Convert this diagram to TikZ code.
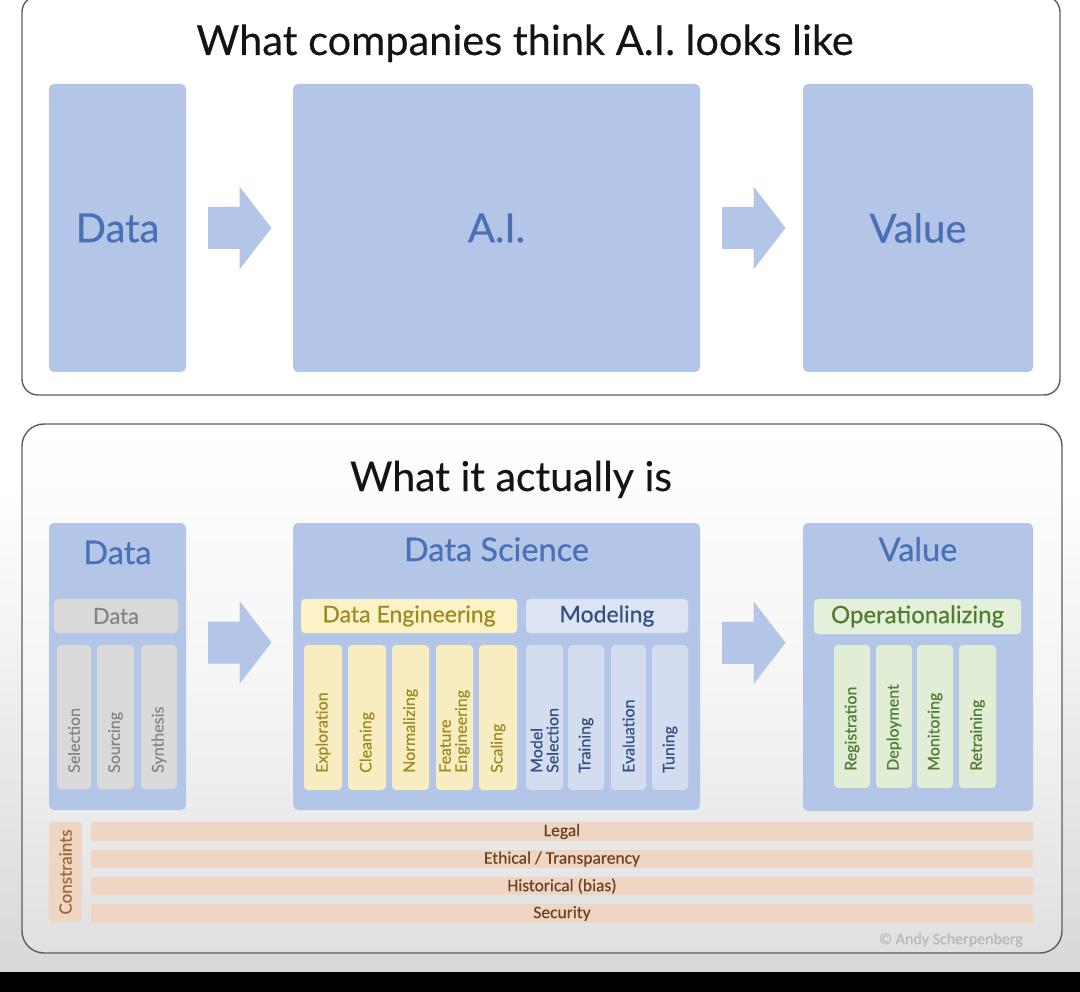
\documentclass[tikz,border=0pt]{standalone}
\usepackage{fontspec}
\setmainfont{Lato}
\newfontfamily\mfont{Lato}[FakeBold=0.5]
\newfontfamily\tfont{Lato}[FakeBold=0.25]
\newfontfamily\cfont{Carlito}[FakeBold=0.4]
\usetikzlibrary{calc}
\definecolor{boxblue}{HTML}{B4C6E7}
\definecolor{titleblue}{HTML}{4A70B6}
\definecolor{grayhead}{HTML}{D9D9D9}
\definecolor{graycol}{HTML}{DADADA}
\definecolor{graytext}{HTML}{858585}
\definecolor{yellowhead}{HTML}{FCF2C8}
\definecolor{yellowcol}{HTML}{F8EDC1}
\definecolor{yellowtext}{HTML}{9E8A22}
\definecolor{modhead}{HTML}{DCE4F3}
\definecolor{modcol}{HTML}{D3DDEF}
\definecolor{modtext}{HTML}{34507E}
\definecolor{greenhead}{HTML}{E4F0D9}
\definecolor{greencol}{HTML}{E2EDD6}
\definecolor{greentext}{HTML}{507D32}
\definecolor{consfill}{HTML}{EFD5C4}
\definecolor{constext}{HTML}{6E4220}
\definecolor{conslabel}{HTML}{9B6A3A}
\definecolor{panelline}{HTML}{5E5E5E}
\definecolor{bgbot}{HTML}{D8D8D8}
\definecolor{panelbot}{HTML}{E0E0E0}
\newcommand\mkbox[6]{\node[#1, minimum width={#4-#2}, minimum height={#5-#3}] (#6) at ({(#2+#4)/2},{(#3+#5)/2}) {};}
\newcommand\mktbox[7]{\node[#1, minimum width={#4-#2}, minimum height={#5-#3}] (#6) at ({(#2+#4)/2},{(#3+#5)/2}) {#7};}
\begin{document}
\begin{tikzpicture}[x=1pt,y=-1pt,
  bigbox/.style={rectangle, rounded corners=5pt, fill=boxblue, inner sep=0pt, text=titleblue},
  hdr/.style={rectangle, rounded corners=4pt, inner sep=0pt, font=\mfont\fontsize{23}{25}\selectfont},
  col/.style={rectangle, rounded corners=4pt, inner sep=0pt},
  collbl/.style={rotate=90, anchor=west, inner sep=0pt, font=\mfont\fontsize{16}{16}\selectfont, align=left},
  consbar/.style={rectangle, rounded corners=2pt, fill=consfill, inner sep=0pt, text=constext, font=\cfont\fontsize{17.5}{18}\selectfont},
  panel/.style={draw=panelline, line width=1.4pt},
  pics/blockarrow/.style={code={\fill[boxblue] (-31.5,-21) -- (0,-21) -- (0,-41.5) -- (32,0) -- (0,41.5) -- (0,21) -- (-31.5,21) -- cycle;}}
]
\useasboundingbox (0,0) rectangle (1080,992);
% background
\fill[top color=white, bottom color=bgbot, middle color=white] (0,0) rectangle (1080,972);
\fill[black] (0,972) rectangle (1080,992);
% panels
\draw[panel, fill=white, rounded corners=16pt] (22,-4) rectangle (1060,395);
\draw[panel, top color=white, bottom color=panelbot, middle color=white!96!black, rounded corners=22pt] (22,424) rectangle (1062,953);

% ---------- top panel ----------
\node[anchor=base, font=\tfont\fontsize{41.5}{44}\selectfont, text=black!92] (ttitle) at (525,55) {What companies think A.I. looks like};
\mktbox{bigbox, font=\mfont\fontsize{40}{42}\selectfont}{49}{84}{186}{372}{tdata}{Data}
\mktbox{bigbox, font=\mfont\fontsize{40}{42}\selectfont}{293}{84}{700}{372}{tai}{A.I.}
\mktbox{bigbox, font=\mfont\fontsize{40}{42}\selectfont}{803}{84}{1033}{372}{tval}{Value}
\coordinate (ta1) at ($(tdata.east)!0.5!(tai.west)$);
\coordinate (ta2) at ($(tai.east)!0.5!(tval.west)+(2,0)$);
\pic at (ta1) {blockarrow};
\pic at (ta2) {blockarrow};

% ---------- bottom panel ----------
\node[anchor=base, font=\tfont\fontsize{41}{44}\selectfont, text=black!92] (btitle) at (511,491) {What it actually is};
\mkbox{bigbox}{49}{523}{186}{810}{bdata}
\mkbox{bigbox}{293}{523}{700}{810}{bds}
\mkbox{bigbox}{803}{523}{1033}{811}{bval}
\node[anchor=base, text=titleblue, font=\mfont\fontsize{32.5}{34}\selectfont] (bdatat) at (117.5,564) {Data};
\node[anchor=base, text=titleblue, font=\mfont\fontsize{32.5}{34}\selectfont] (bdst) at (496.5,561) {Data Science};
\node[anchor=base, text=titleblue, font=\mfont\fontsize{32.5}{34}\selectfont] (bvalt) at (918,561) {Value};
\coordinate (ba1) at ($(bdata.east)!0.5!(bds.west)+(0,-24)$);
\coordinate (ba2) at ($(bds.east)!0.5!(bval.west)+(2,-24)$);
\pic at (ba1) {blockarrow};
\pic at (ba2) {blockarrow};

% Data column
\mktbox{hdr, fill=grayhead, text=graytext, font=\mfont\fontsize{22}{24}\selectfont}{54}{599}{178}{633}{hdata}{Data}
\mkbox{col, fill=graycol}{57}{645}{91}{789}{cSel}
\mkbox{col, fill=graycol}{97}{645}{134}{789}{cSou}
\mkbox{col, fill=graycol}{141}{645}{177}{789}{cSyn}
\node[collbl, text=graytext] (lSel) at (74,773) {Selection};
\node[collbl, text=graytext] (lSou) at (115.5,773) {Sourcing};
\node[collbl, text=graytext] (lSyn) at (159,773) {Synthesis};

% Data Science
\mktbox{hdr, fill=yellowhead, text=yellowtext}{301}{599}{517}{633}{hde}{Data Engineering}
\mktbox{hdr, fill=modhead, text=modtext}{526}{599}{688}{633}{hmod}{Modeling}
\mkbox{col, fill=yellowcol}{304}{645}{342}{790}{cExp}
\mkbox{col, fill=yellowcol}{348}{645}{386}{790}{cCle}
\mkbox{col, fill=yellowcol}{392}{645}{429}{790}{cNor}
\mkbox{col, fill=yellowcol}{436}{645}{473}{790}{cFea}
\mkbox{col, fill=yellowcol}{479}{645}{517}{790}{cSca}
\mkbox{col, fill=modcol}{526}{645}{563}{790}{cMod}
\mkbox{col, fill=modcol}{568}{645}{604}{790}{cTra}
\mkbox{col, fill=modcol}{611}{645}{646}{790}{cEva}
\mkbox{col, fill=modcol}{652}{645}{688}{790}{cTun}
\node[collbl, text=yellowtext] (lExp) at (323,773) {Exploration};
\node[collbl, text=yellowtext] (lCle) at (367,773) {Cleaning};
\node[collbl, text=yellowtext] (lNor) at (410.5,773) {Normalizing};
\node[collbl, text=yellowtext] (lFea) at (454.5,773) {Feature\\Engineering};
\node[collbl, text=yellowtext] (lSca) at (498,773) {Scaling};
\node[collbl, text=modtext] (lMod) at (544.5,773) {Model\\Selection};
\node[collbl, text=modtext] (lTra) at (586,773) {Training};
\node[collbl, text=modtext] (lEva) at (628.5,773) {Evaluation};
\node[collbl, text=modtext] (lTun) at (670,773) {Tuning};

% Value
\mktbox{hdr, fill=greenhead, text=greentext, font=\mfont\fontsize{24}{26}\selectfont}{814}{599}{1021}{634}{hop}{Operationalizing}
\mkbox{col, fill=greencol}{834}{645}{870}{788}{cReg}
\mkbox{col, fill=greencol}{876}{645}{912}{788}{cDep}
\mkbox{col, fill=greencol}{917}{645}{953}{788}{cMon}
\mkbox{col, fill=greencol}{959}{645}{996}{788}{cRet}
\node[collbl, text=greentext] (lReg) at (852,771) {Registration};
\node[collbl, text=greentext] (lDep) at (894,771) {Deployment};
\node[collbl, text=greentext] (lMon) at (935,771) {Monitoring};
\node[collbl, text=greentext] (lRet) at (977.5,771) {Retraining};

% Constraints
\mkbox{col, fill=consfill}{49}{822}{82}{922}{cons}
\node[rotate=90, text=conslabel, font=\mfont\fontsize{17}{18}\selectfont, inner sep=0pt] (consl) at (cons) {Constraints};
\mktbox{consbar}{91}{822}{1033}{841}{legal}{Legal}
\mktbox{consbar}{91}{850}{1033}{868}{ethic}{Ethical / Transparency}
\mktbox{consbar}{91}{877}{1033}{895}{hist}{Historical (bias)}
\mktbox{consbar}{91}{904}{1033}{923}{secu}{Security}
\node[anchor=east, text=black!28, font=\cfont\fontsize{16}{17}\selectfont, inner sep=0pt] (copy) at (1023,940) {© Andy Scherpenberg};
\end{tikzpicture}
\end{document}
